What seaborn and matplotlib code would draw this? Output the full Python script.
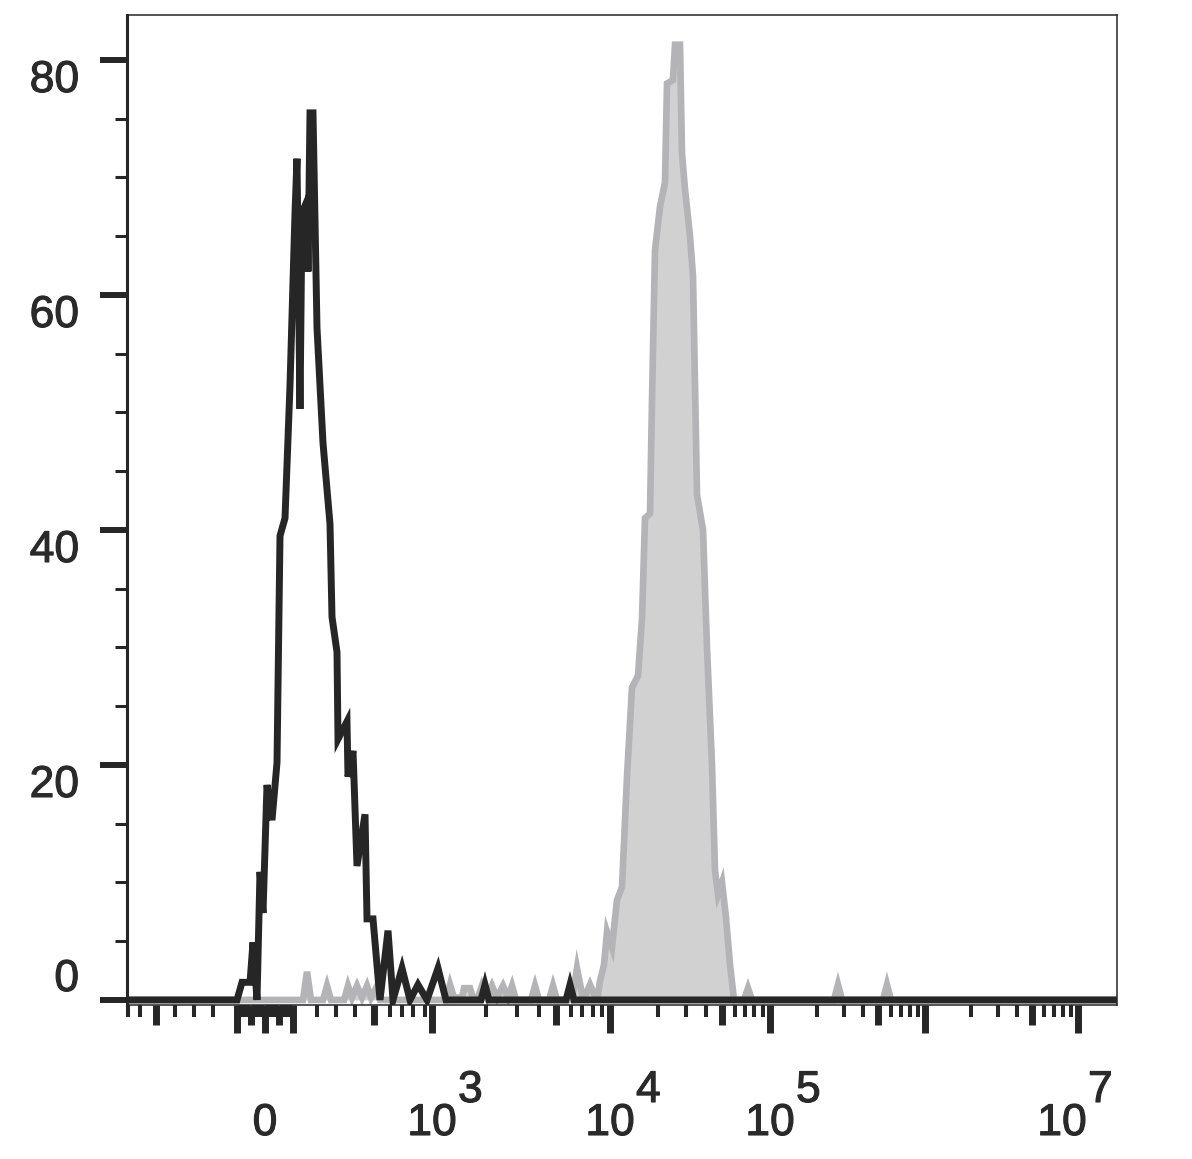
import numpy as np
import matplotlib
matplotlib.use("Agg")
import matplotlib.pyplot as plt
import matplotlib.patheffects as pe
import seaborn as sns
from matplotlib.ticker import FixedLocator

# histogram traces: display channel (0..990 across the plot) and % of max
BLACK_CH = [0, 110, 115, 123, 126, 130, 133, 136, 140, 145, 150, 153, 158, 163,
            168, 170, 173, 175, 180, 181, 183, 186, 190, 196, 203, 205, 210, 211,
            220, 221, 226, 230, 238, 240, 246, 253, 261, 266, 275, 283, 291, 300,
            311, 319, 354, 358, 362, 439, 443, 447, 990]
BLACK_PCT = [0, 0, 1.5, 1.5, 4.9, 0, 10.9, 7.4, 18.3, 15.3, 20.2, 39.5, 41, 52.3,
             67, 71.6, 50.3, 67, 68, 62, 75.5, 75.5, 57.2, 47.4, 40.5, 32.6, 29.6, 22.2,
             23.7, 19, 21.2, 11.4, 15.8, 6.9, 6.9, 0, 5.9, 0, 2.7, 0, 1.3, 0,
             2.7, 0, 0, 1.3, 0, 0, 1.3, 0, 0]

GRAY_CH = [0, 176, 180, 184, 196, 200, 204, 217, 221, 225, 230, 235, 240, 244, 249,
           253, 319, 323, 327, 335, 337, 343, 346, 351, 355, 360, 365, 370, 376, 381,
           385, 389, 404, 408, 412, 422, 426, 430, 445, 450, 455, 459, 463, 467,
           471, 473, 477, 480, 485, 490, 495, 500, 505, 511, 515, 518, 523, 525,
           528, 533, 538, 540, 546, 548, 553, 555, 558, 563, 566, 570, 576, 580,
           585, 588, 591, 595, 599, 603, 607, 617, 621, 625, 707, 711, 715, 756,
           760, 764, 990]
GRAY_PCT = [0, 0, 2.4, 0, 0, 1.2, 0, 0, 1.2, 0.2, 1.2, 0.2, 1.2, 0.2, 1.0,
            0, 0, 1.3, 0.2, 0.2, 1.0, 1.0, 0.2, 0.2, 1.2, 0.2, 1.2, 0.2, 1.2, 0.2,
            1.2, 0, 0, 1.2, 0, 0, 1.2, 0, 0, 2.7, 0.5, 0.5, 1.3, 0.5,
            0.5, 1.6, 3, 5.8, 4.5, 8.5, 9.6, 19, 26.6, 27.6, 32.4, 41, 41.4, 51,
            63.8, 67.5, 69.6, 78, 78.3, 81.3, 81.3, 72, 69, 65, 61.6, 43, 40, 30,
            20, 11, 9, 10, 7, 3, 0, 0, 1.0, 0, 0, 1.3, 0, 0,
            1.3, 0, 0]

Y_TICKS = [0, 20, 40, 60, 80]
Y_MINOR = [5, 10, 15, 25, 30, 35, 45, 50, 55, 65, 70, 75]

X_MAJOR = [-100, 0, 100, 1e3, 1e4, 1e5, 1e6, 1e7]
X_MEDIUM = [-500, -50, 50, 500, 5e3, 5e4, 5e5, 5e6]
X_MINOR = ([s * k for s in (-1, 1) for k in (10, 20, 30, 40, 60, 70, 80, 90,
                                           200, 300, 400, 600, 700, 800, 900)]
           + [k * 10 ** d for d in (3, 4, 5, 6) for k in (2, 3, 4, 6, 7, 8, 9)])
# (value, base text, exponent, horizontal shift in px)
X_LABELS = [(0, "0", None, 0), (1e3, "10", "3", 0), (1e4, "10", "4", 0),
            (1e5, "10", "5", 0), (1e7, "10", "7", -16)]

# biexponential-like display: linear near zero, log decades above 10^3
ZERO_CH = 138
LIN_V = [0, 100, 200, 300, 400, 500, 600, 700, 800, 900, 1000]
LIN_OFF = [0, 28, 52, 71, 90, 109, 125, 137, 148, 160, 167]
DEC_EXP = [3, 4, 5, 6, 7]
DEC_OFF = [167, 345, 505, 660, 813]


def to_channel(v):
    v = np.asarray(v, dtype=float)
    a = np.abs(v)
    lin = np.interp(a, LIN_V, LIN_OFF)
    lg = np.interp(np.log10(np.maximum(a, 1000)), DEC_EXP, DEC_OFF)
    return ZERO_CH + np.sign(v) * np.where(a <= 1000, lin, lg)


def in_range(ch):
    return [c for c in ch if 0 <= c <= 990]


sns.set_style("ticks")
plt.rcParams['font.family'] = ['Liberation Sans', 'DejaVu Sans']
INK = '#262626'
TXT = '#2a2a2a'
heavy = [pe.withStroke(linewidth=0.8, foreground=TXT)]

fig = plt.figure(figsize=(11.92, 11.59), dpi=100)
ax = fig.add_axes([127 / 1192, 1 - 1005 / 1159, 990 / 1192, 990 / 1159])

ax.fill_between(GRAY_CH, GRAY_PCT, 0, color='#d1d1d1', lw=0, zorder=1)
sns.lineplot(x=GRAY_CH, y=GRAY_PCT, ax=ax, color='#b4b4b6', lw=4.8,
             sort=False, estimator=None, zorder=2)
sns.lineplot(x=BLACK_CH, y=BLACK_PCT, ax=ax, color=INK, lw=5.0,
             sort=False, estimator=None, zorder=3)
for ln in ax.lines:
    ln.set_solid_joinstyle('miter')

ax.set_xlim(0, 990)
ax.set_ylim(-0.43, 83.83)
ax.set_xlabel("")
ax.set_ylabel("")

for side in ['top', 'right', 'bottom']:
    ax.spines[side].set_linewidth(1.1)
    ax.spines[side].set_color(INK)
ax.spines['left'].set_linewidth(2.2)
ax.spines['left'].set_color(INK)

# y axis
ax.yaxis.set_major_locator(FixedLocator(Y_TICKS))
ax.yaxis.set_minor_locator(FixedLocator(Y_MINOR))
ax.tick_params(axis='y', which='major', direction='out', length=19.5, width=4.3,
               pad=15, labelsize=32, color=INK, labelcolor=TXT)
ax.tick_params(axis='y', which='minor', direction='out', length=8.6, width=2.2,
               color=INK)
for lab, val in zip(ax.get_yticklabels(), Y_TICKS):
    lab.set_verticalalignment('bottom' if val == 0 else 'top')
    lab.set_path_effects(heavy)

# x axis: long, medium and short ticks
ax.xaxis.set_major_locator(FixedLocator(in_range(to_channel(X_MAJOR))))
ax.xaxis.set_minor_locator(FixedLocator(in_range(to_channel(X_MINOR))))
ax.tick_params(axis='x', which='major', direction='out', length=20, width=5,
               labelbottom=False, color=INK)
ax.tick_params(axis='x', which='minor', direction='out', length=8.6, width=2.9,
               color=INK)
sec = ax.secondary_xaxis('bottom')
sec.set_xticks(in_range(to_channel(X_MEDIUM)))
sec.tick_params(direction='out', length=14.4, width=5, labelbottom=False, color=INK)
sec.spines['bottom'].set_visible(False)

for val, base, sup, shift in X_LABELS:
    c = float(to_channel(val))
    ax.annotate(base, xy=(c, 0), xycoords=('data', 'axes fraction'),
                xytext=(shift, -130), textcoords='offset pixels',
                ha='center', va='baseline', fontsize=32, color=TXT,
                path_effects=heavy)
    if sup:
        ax.annotate(sup, xy=(c, 0), xycoords=('data', 'axes fraction'),
                    xytext=(shift + 26, -97), textcoords='offset pixels',
                    ha='left', va='baseline', fontsize=32, color=TXT,
                    path_effects=heavy)

fig.savefig("out.png", dpi=100)
